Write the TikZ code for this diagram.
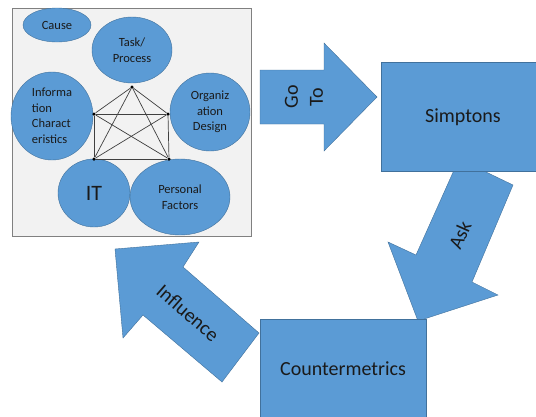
\documentclass[tikz,border=0pt]{standalone}
\usepackage{fontspec}
\setmainfont{Carlito}
\usetikzlibrary{shapes.geometric}
\definecolor{boxblue}{HTML}{5B9BD5}
\definecolor{edgeblue}{HTML}{41719C}
\definecolor{panelgray}{HTML}{F2F2F2}
\definecolor{inkblack}{HTML}{1A1A1A}

\begin{document}
\begin{tikzpicture}[x=1pt,y=-1pt,
    bubble/.style={ellipse, draw=edgeblue, fill=boxblue, text=inkblack, align=center, inner sep=0pt, font=\fontsize{12.5}{15.5}\selectfont},
    bigtext/.style={text=inkblack, align=center, font=\fontsize{20}{25}\selectfont},
    vertex/.style={circle, fill=black, inner sep=0pt, minimum size=3.5pt}]
    \useasboundingbox[fill=white] (0,0) rectangle (536,416);

    \filldraw[draw=gray, fill=panelgray, line width=1pt] (12,8) rectangle (251,236);

    \node[bubble, minimum width=68, minimum height=34] (cause) at (57,25) {Cause};
    \node[bubble, minimum width=80, minimum height=66] (task) at (132,50) {Task/\\Process};
    \node[bubble, minimum width=82, minimum height=88, align=left] (info) at (52,116) {Informa\\tion\\Charact\\eristics};
    \node[bubble, minimum width=80, minimum height=78] (org) at (210,112) {Organiz\\ation\\Design};
    \node[bubble, minimum width=72, minimum height=68, font=\fontsize{22}{26}\selectfont] (it) at (94,193) {IT};
    \node[bubble, minimum width=100, minimum height=76] (personal) at (180,197) {Personal\\Factors};

    \node[vertex] (vtop) at (132,87) {};
    \node[vertex] (vleft) at (94,114) {};
    \node[vertex] (vright) at (168,114) {};
    \node[vertex] (vbl) at (94,159) {};
    \node[vertex] (vbr) at (169,159) {};

    \draw[black!75, line width=0.7pt] (vtop) -- (vleft);
    \draw[black!75, line width=0.7pt] (vtop) -- (vright);
    \draw[black!75, line width=0.7pt] (vtop) -- (vbl);
    \draw[black!75, line width=0.7pt] (vtop) -- (vbr);
    \draw[black!75, line width=0.7pt] (vleft) -- (vright);
    \draw[black!75, line width=0.7pt] (vleft) -- (vbl);
    \draw[black!75, line width=0.7pt] (vleft) -- (vbr);
    \draw[black!75, line width=0.7pt] (vright) -- (vbl);
    \draw[black!75, line width=0.7pt] (vright) -- (vbr);
    \draw[black!75, line width=0.7pt] (vbl) -- (vbr);

    % go to
    \filldraw[draw=edgeblue, fill=boxblue] (260,70) -- (324,70) -- (324,43) -- (377,97) -- (324,151) -- (324,124) -- (260,124) -- cycle;
    \node[bigtext, rotate=90] (goto) at (304,97) {Go\\To};

    % ask
    \filldraw[draw=edgeblue, fill=boxblue] (459,159) -- (513,185) -- (472,282) -- (498,295) -- (418,321) -- (388,242) -- (416,255) -- cycle;
    \node[bigtext, rotate=66] (ask) at (460,235) {Ask};

    % influence
    \filldraw[draw=edgeblue, fill=boxblue] (259,333) -- (183,267) -- (199,242) -- (115,249) -- (123,338) -- (143,315) -- (222,382) -- cycle;
    \node[bigtext, rotate=-41] (influence) at (188,313) {Influence};

    \filldraw[draw=edgeblue, fill=boxblue] (381,62) rectangle (540,171);
    \node[bigtext] (simptons) at (463,117) {Simptons};

    \filldraw[draw=edgeblue, fill=boxblue] (260,319) rectangle (426,420);
    \node[bigtext] (counter) at (343,369) {Countermetrics};
\end{tikzpicture}
\end{document}
